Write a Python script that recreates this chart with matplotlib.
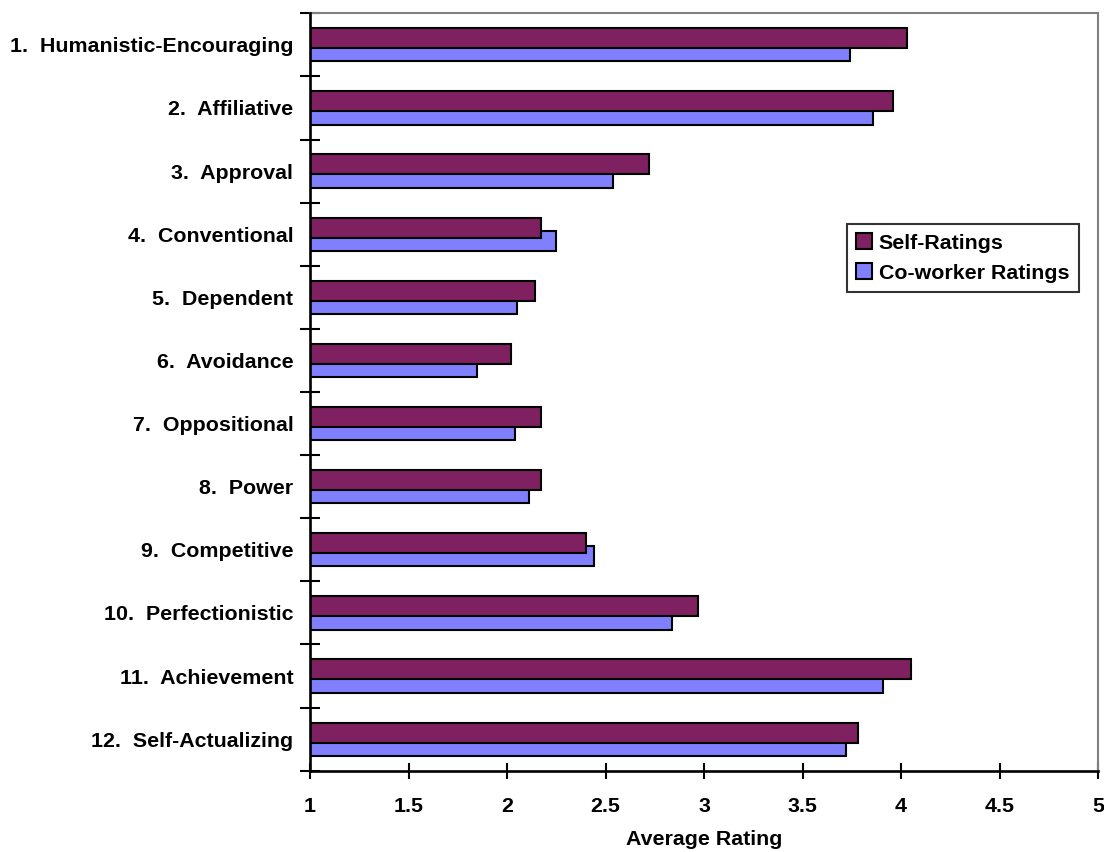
import numpy as np
import matplotlib.pyplot as plt

plt.rcParams['font.family'] = ['Liberation Sans', 'DejaVu Sans']
plt.rcParams['font.weight'] = 'bold'

categories = [
    "1.  Humanistic-Encouraging", "2.  Affiliative", "3.  Approval",
    "4.  Conventional", "5.  Dependent", "6.  Avoidance", "7.  Oppositional",
    "8.  Power", "9.  Competitive", "10.  Perfectionistic",
    "11.  Achievement", "12.  Self-Actualizing",
]
self_ratings = [4.03, 3.96, 2.72, 2.17, 2.14, 2.02, 2.17, 2.17, 2.40, 2.97, 4.05, 3.78]
coworker_ratings = [3.74, 3.86, 2.54, 2.25, 2.05, 1.85, 2.04, 2.11, 2.44, 2.84, 3.91, 3.72]
x_ticks = [1, 1.5, 2, 2.5, 3, 3.5, 4, 4.5, 5]

SELF_COLOR = "#7F2060"
COWORKER_COLOR = "#8080FF"
FS = 15.4

fig = plt.figure(figsize=(11.04, 8.52), dpi=100)
ax = fig.add_axes([0.2808, 0.0954, 0.9946 - 0.2808, 0.9844 - 0.0954])

y = np.arange(len(categories))
h = 0.317
off = 0.105
base = 1.0

# co-worker bars sit behind the self bars (overlapping like Excel)
ax.barh(y + off, np.array(coworker_ratings) - base, left=base, height=h,
        color=COWORKER_COLOR, edgecolor="black", linewidth=1.5, zorder=2,
        label="Co-worker Ratings")
ax.barh(y - off, np.array(self_ratings) - base, left=base, height=h,
        color=SELF_COLOR, edgecolor="black", linewidth=1.5, zorder=3,
        label="Self-Ratings")

ax.set_xlim(1, 5)
ax.set_ylim(len(categories) - 0.5, -0.5)
ax.set_xticks(x_ticks)
ax.set_xticklabels([f"{t:g}" for t in x_ticks], fontsize=FS, fontweight="bold")

# category labels centered in each row, ticks on row boundaries
ax.set_yticks(y)
ax.set_yticklabels(categories, fontsize=FS, fontweight="bold")
ax.set_yticks(np.arange(len(categories) + 1) - 0.5, minor=True)
ax.tick_params(axis="y", which="major", length=0, pad=12)
ax.tick_params(axis="y", which="minor", direction="inout", length=15, width=1.5)
ax.tick_params(axis="x", direction="inout", length=12, width=1.5, pad=13)

ax.set_xlabel("Average Rating", fontsize=FS, fontweight="bold", labelpad=10)

for side in ("left", "bottom"):
    ax.spines[side].set_color("black")
    ax.spines[side].set_linewidth(1.9)
    ax.spines[side].set_zorder(4)
for side in ("top", "right"):
    ax.spines[side].set_color("#808080")
    ax.spines[side].set_linewidth(1.5)

handles, labels = ax.get_legend_handles_labels()
leg = ax.legend(handles[::-1], labels[::-1], loc="upper left",
                bbox_to_anchor=(0.681, 0.722), frameon=True, fancybox=False,
                prop={"weight": "bold", "size": FS},
                handlelength=0.75, handleheight=0.75, handletextpad=0.3,
                borderpad=0.45, labelspacing=0.5, borderaxespad=0)
leg.get_frame().set_edgecolor("black")
leg.get_frame().set_linewidth(1.5)

fig.savefig("out.png", dpi=100)
